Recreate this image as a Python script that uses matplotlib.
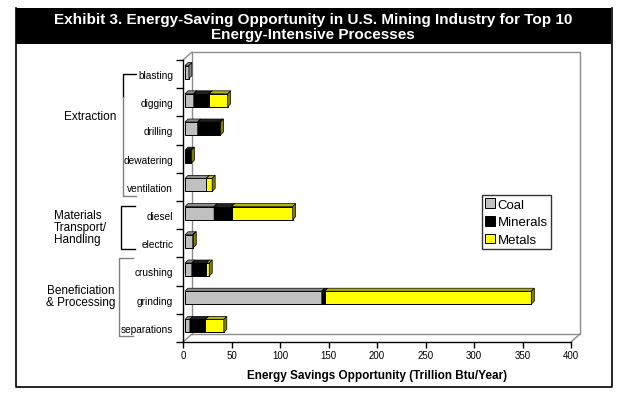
import numpy as np
import matplotlib
matplotlib.use("Agg")
import matplotlib.pyplot as plt
from matplotlib.patches import Rectangle, Polygon
from matplotlib.lines import Line2D

plt.rcParams['font.family'] = ['Liberation Sans', 'DejaVu Sans']

categories = ['blasting', 'digging', 'drilling', 'dewatering', 'ventilation',
              'diesel', 'electric', 'crushing', 'grinding', 'separations']
coal = [4, 9, 13, 0, 22, 30, 8, 7, 141, 5]
minerals = [0, 16, 23, 6, 0, 18, 0, 15, 3, 16]
metals = [0, 19, 0.5, 0.5, 6, 63, 0.5, 3, 213, 19]
series_names = ['Coal', 'Minerals', 'Metals']
xticks = [0, 50, 100, 150, 200, 250, 300, 350, 400]

front = ['#C0C0C0', '#000000', '#FFFF00']
tops = ['#8C8C8C', '#202020', '#B4B400']
sides = ['#808080', '#000000', '#808000']

W, H = 628, 402
fig = plt.figure(figsize=(W / 100, H / 100), dpi=100)


def fx(px):
    return px / W


def fy(py):
    return 1 - py / H


# outer frame and title bar
fig.add_artist(Rectangle((fx(16), fy(45)), fx(611) - fx(16), fy(9) - fy(45),
                         transform=fig.transFigure, facecolor='black',
                         edgecolor='black', lw=0))
fig.add_artist(Line2D([fx(16), fx(16), fx(612), fx(612)],
                      [fy(9), fy(388), fy(388), fy(9)],
                      transform=fig.transFigure, color='black', lw=1.2))
fig.text(fx(313), fy(27.5),
         'Exhibit 3. Energy-Saving Opportunity in U.S. Mining Industry for Top 10\n'
         'Energy-Intensive Processes',
         color='white', fontsize=11, fontweight='bold', ha='center',
         va='center', linespacing=1.1)

# front plane of the 3d chart
x0p, x1p, y0p, y1p = 183, 571, 61, 343
ax = fig.add_axes([fx(x0p), fy(y1p), fx(x1p) - fx(x0p), fy(y0p) - fy(y1p)])
ax.set_xlim(0, 400)
ax.set_ylim(9.5, -0.5)
ax.patch.set_alpha(0)
for s in ['top', 'right']:
    ax.spines[s].set_visible(False)
ax.spines['left'].set_linewidth(1.0)
ax.spines['bottom'].set_linewidth(1.0)

px_x = (x1p - x0p) / 400.0
px_y = (y1p - y0p) / 10.0

# back wall (offset 9px right, 8px up)
wx, wy = 9 / px_x, 8 / px_y
gray = '#8C8C8C'
ax.plot([wx, wx, 400 + wx, 400 + wx, wx],
        [9.5 - wy, -0.5 - wy, -0.5 - wy, 9.5 - wy, 9.5 - wy],
        color=gray, lw=1.0, clip_on=False, zorder=0)
ax.plot([0, wx], [-0.5, -0.5 - wy], color=gray, lw=1.0, clip_on=False, zorder=0)
ax.plot([0, wx], [9.5, 9.5 - wy], color=gray, lw=1.0, clip_on=False, zorder=0)
ax.plot([400, 400 + wx], [9.5, 9.5 - wy], color=gray, lw=1.0, clip_on=False, zorder=0)

# bars
y = np.arange(len(categories))
h = 0.46
bx, by = 2 / px_x, 2 / px_y
dx, dy = 3 / px_x, 3 / px_y
left = np.zeros(len(categories))
for k, vals in enumerate([coal, minerals, metals]):
    vals = np.array(vals, dtype=float)
    for i in range(len(categories)):
        if vals[i] <= 0:
            continue
        a = left[i] + bx
        b = left[i] + vals[i] + bx
        yt = y[i] - h / 2 - by
        yb = y[i] + h / 2 - by
        z = 3 + k
        ax.add_patch(Rectangle((a, yt), b - a, yb - yt, facecolor=front[k],
                               edgecolor='black', lw=0.7, zorder=z, clip_on=False))
        ax.add_patch(Polygon([(a, yt), (b, yt), (b + dx, yt - dy), (a + dx, yt - dy)],
                             closed=True, facecolor=tops[k], edgecolor='black',
                             lw=0.5, zorder=z, clip_on=False))
        ax.add_patch(Polygon([(b, yt), (b + dx, yt - dy), (b + dx, yb - dy), (b, yb)],
                             closed=True, facecolor=sides[k], edgecolor='black',
                             lw=0.5, zorder=z, clip_on=False))
    left += vals

# ticks
ax.set_yticks(y)
ax.set_yticklabels(categories, fontsize=7.3)
ax.set_yticks(np.arange(-0.5, 10, 1), minor=True)
ax.tick_params(axis='y', which='major', length=0, pad=7)
ax.tick_params(axis='y', which='minor', length=5, width=1.0, direction='out')
ax.set_xticks(xticks)
ax.set_xticklabels([str(t) for t in xticks], fontsize=7)
ax.tick_params(axis='x', length=4, width=1.0, pad=2)
ax.set_xlabel('Energy Savings Opportunity (Trillion Btu/Year)', fontsize=8.5,
              fontweight='bold', labelpad=6)

# group labels and brackets
fig.text(fx(90), fy(117), 'Extraction', fontsize=8.5, ha='center', va='center')
fig.text(fx(54), fy(228), 'Materials\nTransport/\nHandling', fontsize=8.5,
         ha='left', va='center', linespacing=1.0)
fig.text(fx(115), fy(297), 'Beneficiation\n& Processing', fontsize=8.5,
         ha='right', va='center', linespacing=1.0)

fig.add_artist(Line2D([fx(136), fx(123), fx(123)], [fy(75), fy(75), fy(98)],
                      transform=fig.transFigure, color='black', lw=1.0))
fig.add_artist(Line2D([fx(123), fx(123), fx(136)], [fy(98), fy(197), fy(197)],
                      transform=fig.transFigure, color='#808080', lw=1.0))
fig.add_artist(Line2D([fx(135), fx(121), fx(121), fx(135)],
                      [fy(207), fy(207), fy(250), fy(250)],
                      transform=fig.transFigure, color='black', lw=1.0))
fig.add_artist(Line2D([fx(133), fx(119), fx(119), fx(133)],
                      [fy(259), fy(259), fy(337), fy(337)],
                      transform=fig.transFigure, color='#808080', lw=1.0))

# legend
handles = [Rectangle((0, 0), 1, 1, facecolor=c, edgecolor='black', lw=0.7)
           for c in front]
leg = fig.legend(handles, series_names, loc='upper left',
                 bbox_to_anchor=(fx(482), fy(196)), fontsize=9.5, frameon=True,
                 fancybox=False, borderpad=0.25, handlelength=0.75,
                 handleheight=0.75, handletextpad=0.2, labelspacing=0.4,
                 borderaxespad=0)
leg.get_frame().set_edgecolor('black')
leg.get_frame().set_linewidth(1.0)

fig.savefig('out.png', dpi=100)
